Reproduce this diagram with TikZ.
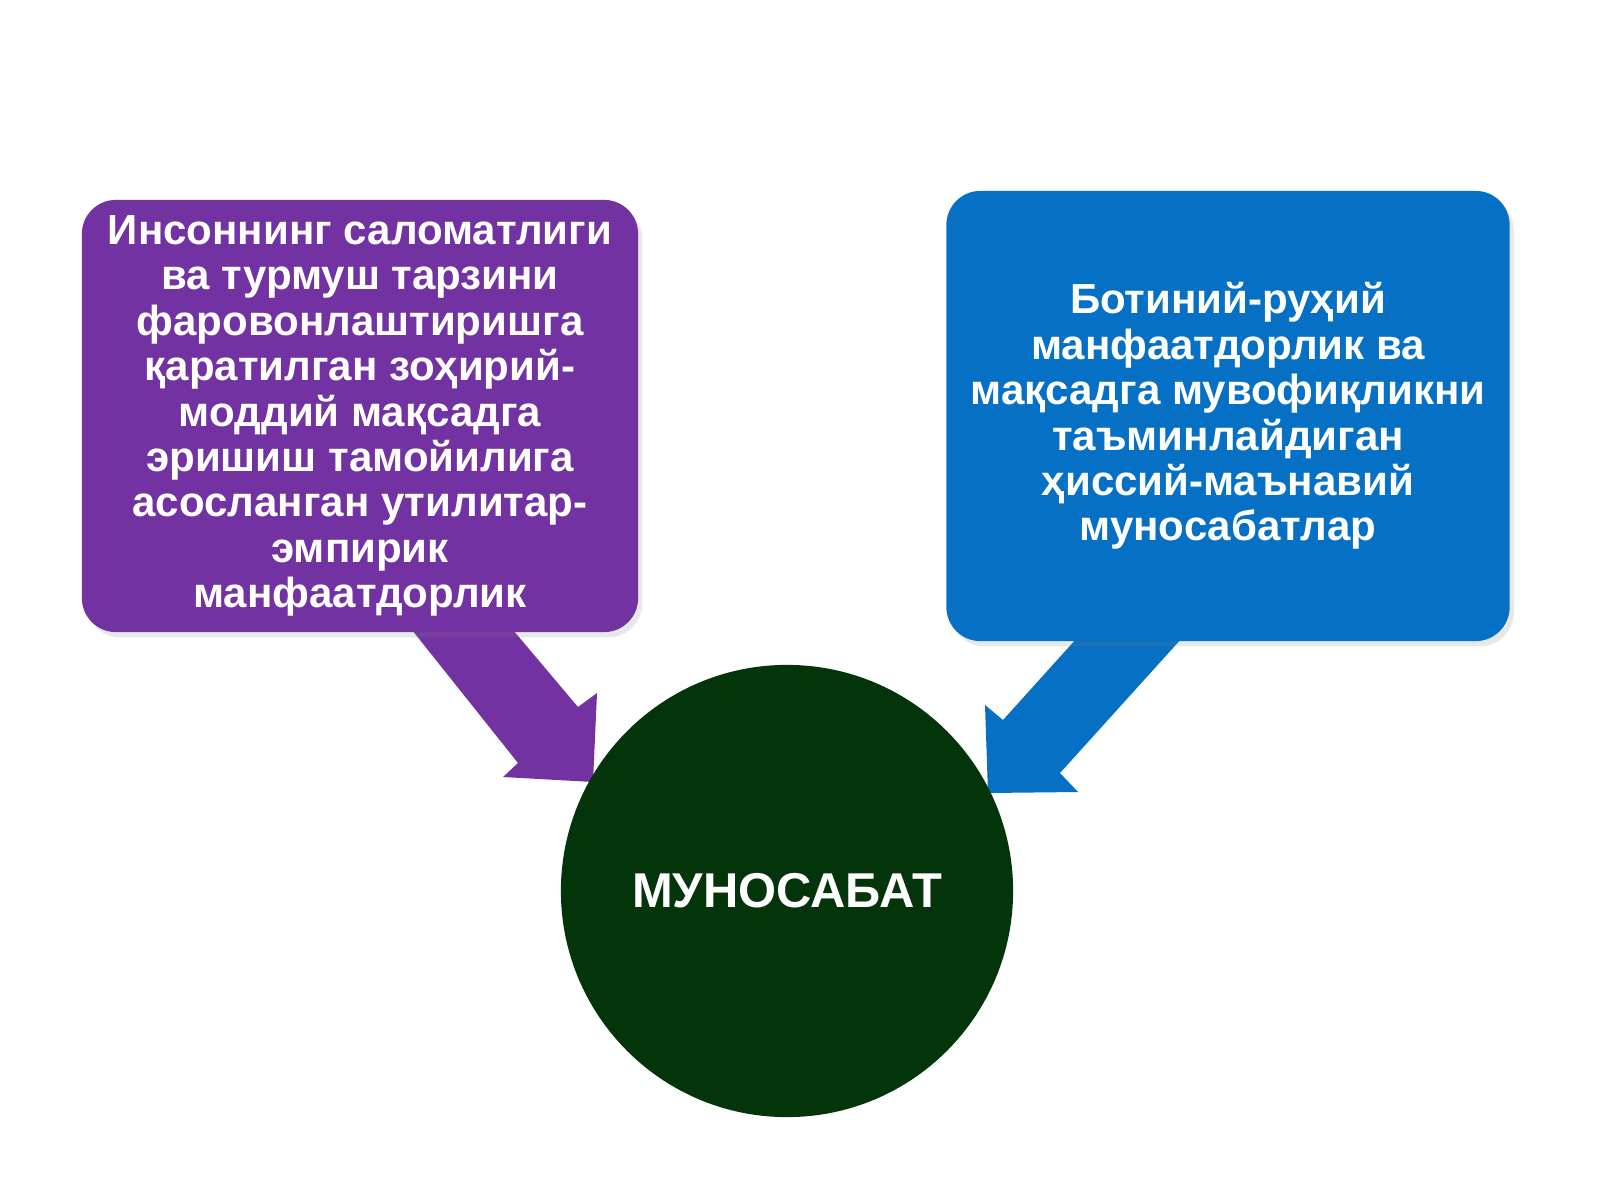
\documentclass[tikz,border=0pt]{standalone}
\usepackage{fontspec}
\setmainfont{Liberation Sans}
\usetikzlibrary{shadows}
\definecolor{boxpurple}{RGB}{114,50,162}
\definecolor{boxblue}{RGB}{6,112,196}
\definecolor{circgreen}{RGB}{4,52,10}
\tikzset{
  txtbox/.style={rounded corners=34pt*0.2845, minimum width=556*0.2845pt, text=white,
    font=\bfseries\fontsize{11.95}{12.92}\selectfont, align=center, inner sep=0pt,
    drop shadow={opacity=0.18, shadow xshift=1.2pt, shadow yshift=-1.5pt}},
}
\begin{document}
\begin{tikzpicture}[x=0.01cm,y=-0.01cm]
\useasboundingbox[fill=white] (0,0) rectangle (1600,1200);
% arrows
\fill[boxpurple] (412,630) -- (513,630) -- (578,707) -- (597,693) -- (593,782) -- (503,777) -- (518,763) -- cycle;
\fill[boxblue] (1077,638) -- (1182,638) -- (1060,773) -- (1078,792) -- (988,793) -- (985,705) -- (1003,720) -- cycle;
% boxes
\node[txtbox, fill=boxpurple, minimum width=556*0.2845pt, minimum height=432*0.2845pt] (left) at (360,416)
 {\raisebox{0pt}{}Инсоннинг саломатлиги\\ва турмуш тарзини\\фаровонлаштиришга\\қаратилган зоҳирий-\\моддий мақсадга\\эришиш тамойилига\\асосланган утилитар-\\эмпирик\\манфаатдорлик};
\node[txtbox, fill=boxblue, minimum width=563*0.2845pt, minimum height=450*0.2845pt] (right) at (1228,416)
 {Ботиний-руҳий\\манфаатдорлик ва\\мақсадга мувофиқликни\\таъминлайдиган\\ҳиссий-маънавий\\муносабатлар};
% circle
\node[circle, fill=circgreen, minimum size=452*0.2845pt, inner sep=0pt, text=white,
  font=\bfseries\fontsize{13.9}{15}\selectfont] (mid) at (787,891) {МУНОСАБАТ};
\end{tikzpicture}
\end{document}
